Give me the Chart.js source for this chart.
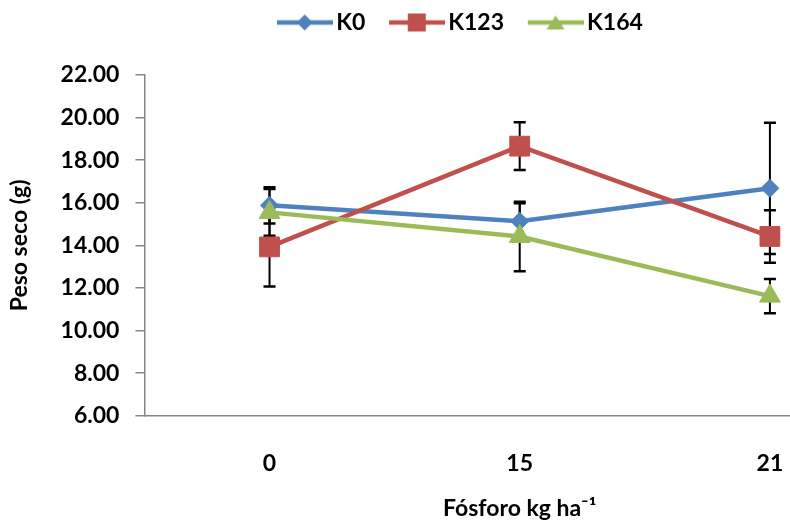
<!DOCTYPE html>
<html>
<head>
<meta charset="utf-8">
<script src="https://cdn.jsdelivr.net/npm/chart.js@4"></script>
<style>
html, body { margin: 0; padding: 0; overflow: hidden; background: #fff; }
#wrap { width: 910px; height: 525px; position: relative; }
</style>
</head>
<body>
<div id="wrap"><canvas id="chart"></canvas></div>
<script>
// values
var doses = ["0", "15", "21"];
var k0 = [15.88, 15.13, 16.68];
var k0Err = [0.85, 0.85, 3.08];
var k123 = [13.93, 18.66, 14.42];
var k123Err = [1.86, 1.12, 1.23];
var k164 = [15.55, 14.42, 11.62];
var k164Err = [1.1, 1.63, 0.8];
var errs = [k0Err, k123Err, k164Err];

var blue = '#4F81BD', red = '#C0504D', green = '#9BBB59';

Chart.defaults.font.family = 'Lato';
Chart.defaults.font.weight = 'bold';
Chart.defaults.font.size = 23;
Chart.defaults.color = '#000';

// little line + marker picture for the legend
function legendIcon(color, style) {
  var c = document.createElement('canvas');
  c.width = 78; c.height = 24;
  var g = c.getContext('2d');
  g.strokeStyle = color;
  g.lineWidth = 4.5;
  g.beginPath(); g.moveTo(22, 12); g.lineTo(78, 12); g.stroke();
  g.fillStyle = color;
  var cx = 49.75, cy = 12;
  g.beginPath();
  if (style == 'rectRot') {
    g.moveTo(cx, cy - 8); g.lineTo(cx + 8, cy); g.lineTo(cx, cy + 8); g.lineTo(cx - 8, cy);
  } else if (style == 'rect') {
    g.rect(cx - 9, cy - 9, 18, 18);
  } else {
    g.moveTo(cx, cy - 7); g.lineTo(cx + 9, cy + 7); g.lineTo(cx - 9, cy + 7);
  }
  g.closePath();
  g.fill();
  return c;
}
var icons = [legendIcon(blue, 'rectRot'), legendIcon(red, 'rect'), legendIcon(green, 'triangle')];

var errorBars = {
  id: 'errorBars',
  beforeDatasetsDraw: function(chart) {
    var ctx = chart.ctx, xs = chart.scales.x, ys = chart.scales.y;
    ctx.save();
    ctx.strokeStyle = '#000';
    chart.data.datasets.forEach(function(ds, k) {
      ds.data.forEach(function(v, i) {
        var px = xs.getPixelForValue(i);
        var top = ys.getPixelForValue(v + errs[k][i]);
        var bot = ys.getPixelForValue(v - errs[k][i]);
        ctx.lineWidth = 2;
        ctx.beginPath();
        ctx.moveTo(px, top); ctx.lineTo(px, bot);
        ctx.stroke();
        ctx.lineWidth = 2.5;
        ctx.beginPath();
        ctx.moveTo(px - 6, top); ctx.lineTo(px + 6, top);
        ctx.moveTo(px - 6, bot); ctx.lineTo(px + 6, bot);
        ctx.stroke();
      });
    });
    ctx.restore();
  }
};

// push the plot down under the legend
var legendGap = {
  id: 'legendGap',
  beforeInit: function(chart) {
    if (!chart.legend) return;
    var fit = chart.legend.fit;
    chart.legend.fit = function() {
      fit.call(this);
      this.height += 31;
    };
  }
};

var ctx = document.getElementById('chart').getContext('2d');
var chart = new Chart(ctx, {
  type: 'line',
  data: {
    labels: doses,
    datasets: [{
      label: 'K0',
      data: k0,
      borderColor: blue,
      backgroundColor: blue,
      borderWidth: 4.5,
      pointStyle: 'rectRot',
      pointRadius: 9,
      pointBorderWidth: 1,
      order: 2
    }, {
      label: 'K123',
      data: k123,
      borderColor: red,
      backgroundColor: red,
      borderWidth: 4.5,
      pointStyle: 'rect',
      pointRadius: 14,
      pointBorderWidth: 1,
      order: 1
    }, {
      label: 'K164',
      data: k164,
      borderColor: green,
      backgroundColor: green,
      borderWidth: 4.5,
      pointStyle: 'triangle',
      pointRadius: 12,
      pointBorderWidth: 1,
      order: 0
    }]
  },
  options: {
    responsive: true,
    maintainAspectRatio: false,
    animation: false,
    layout: { padding: { top: 1, right: 6, left: 2, bottom: 0 } },
    plugins: {
      tooltip: { enabled: false },
      legend: {
        position: 'top',
        labels: {
          usePointStyle: true,
          pointStyleWidth: 61.5,
          padding: 10,
          color: '#000',
          font: { size: 23, weight: 'bold' },
          generateLabels: function(chart) {
            return chart.data.datasets.map(function(ds, i) {
              return {
                text: ds.label,
                pointStyle: icons[i],
                fillStyle: ds.borderColor,
                strokeStyle: ds.borderColor,
                lineWidth: 0,
                hidden: false,
                fontColor: '#000',
                datasetIndex: i
              };
            });
          }
        }
      }
    },
    scales: {
      x: {
        offset: true,
        grid: { display: false, drawTicks: true, tickLength: 30 },
        border: { display: true, color: '#868686', width: 1.5 },
        ticks: { padding: 4, color: '#000', font: { size: 23, weight: 'bold' } },
        title: {
          display: true,
          text: 'Fósforo kg ha⁻¹',
          color: '#000',
          font: { size: 23, weight: 'bold' },
          padding: { top: 13, bottom: 3 }
        }
      },
      y: {
        min: 6,
        max: 22,
        grid: { drawOnChartArea: false, tickLength: 9, color: '#868686', lineWidth: 1.5 },
        border: { display: true, color: '#868686', width: 1.5 },
        ticks: {
          stepSize: 2,
          padding: 16,
          color: '#000',
          font: { size: 23, weight: 'bold' },
          callback: function(v) { return Number(v).toFixed(2); }
        },
        title: {
          display: true,
          text: 'Peso seco (g)',
          color: '#000',
          font: { size: 23, weight: 'bold' },
          padding: { top: 4, bottom: 11 }
        }
      }
    }
  },
  plugins: [errorBars, legendGap]
});
</script>
</body>
</html>
